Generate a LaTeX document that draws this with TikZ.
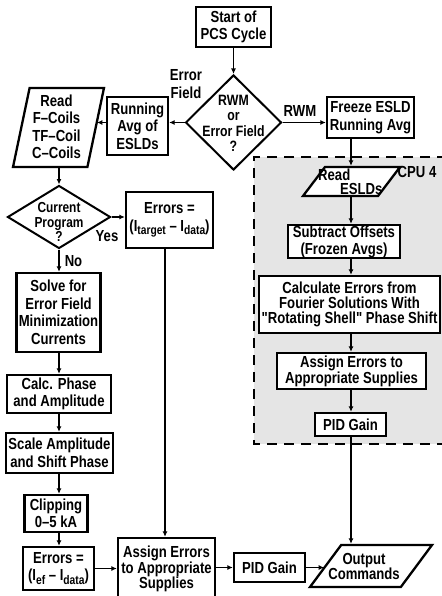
\documentclass[tikz,border=0pt]{standalone}
\usepackage{fontspec}
\setmainfont{Liberation Sans}[FakeStretch=0.82, Ligatures=TeXOff]
\usetikzlibrary{shapes.geometric,arrows.meta}
\newcommand\mysub[1]{\raisebox{-3.5pt}{\fontsize{12.5}{12.5}\selectfont #1}}
\newcommand\fsz[2]{\bfseries\fontsize{#1}{#2}\selectfont}
\begin{document}
\begin{tikzpicture}[x=1pt,y=-1pt,
  every node/.style={font=\fsz{16}{17.5}},
  box/.style 2 args={draw, line width=2.3pt, fill=white, minimum width=#1, minimum height=#2, inner sep=0pt, align=center},
  dia/.style 2 args={diamond, draw, line width=2pt, fill=white, minimum width=#1, minimum height=#2, inner sep=1pt},
  para/.style n args={4}{trapezium, trapezium left angle=#1, trapezium right angle=#2, trapezium stretches=true, draw, line width=2.3pt, fill=white, minimum width=#3, minimum height=#4, inner sep=2pt},
  txt/.style={inner sep=0pt, align=center},
  arr/.style={line width=1.6pt, -{Latex[length=5.5pt,width=5pt]}},
  region/.style={line width=1.8pt, dash pattern=on 10pt off 7pt}
]
\useasboundingbox (0,0) rectangle (441,596);
% CPU 4 region
\fill[gray!20] (254,157) rectangle (447,444);
\draw[region] (447,157) -- (254,157) -- (254,444) -- (447,444);
\coordinate (colL) at (59,0);
\coordinate (colB) at (165,0);
\coordinate (colR) at (351,0);
% nodes
\node[box={75}{40}] (start) at (233.5,27) {Start of\\PCS Cycle};
\node[dia={96}{95}] (d1) at (233.5,122.5) {};
\node[txt, font=\fsz{15}{15.5}] at (233.5,123.5) {RWM\\or\\Error Field\\?};
\node[txt] at (186,84) {Error\\Field};
\node[txt] at (300,111) {RWM};
\node[box={87}{41}] (freeze) at (370.5,117.5) {Freeze ESLD\\Running Avg};
\node[box={61}{58}] (runavg) at (137.5,126) {Running\\Avg of\\ESLDs};
\node[para={74}{106}{91}{79}] (readF) at (58.5,127.5) {};
\node[txt] at (56.5,127) {Read\\F–Coils\\TF–Coil\\C–Coils};
\node[dia={103}{63}] (cp) at (59,217) {};
\node[txt, font=\fsz{14.5}{14.3}] at (59,222) {Current\\Program\\?};
\node[txt] at (107,236) {Yes};
\node[box={87}{56}] (errT) at (169.5,220) {Errors =\\(I\mysub{target} – I\mysub{data})};
\node[txt] at (73.5,261) {No};
\node[box={84}{79}] (solve) at (58.5,312.5) {Solve for\\Error Field\\Minimization\\Currents};
\node[box={104}{38}] (calc) at (59,394) {Calc. Phase\\and Amplitude};
\node[box={107}{40}] (scale) at (59.5,453) {Scale Amplitude\\and Shift Phase};
\node[box={63}{37}] (clip) at (56,513.5) {Clipping\\0–5 kA};
\node[box={71}{43}] (errEF) at (58.5,568.5) {Errors =\\(I\mysub{ef} – I\mysub{data})};
\node[box={97}{62}, font=\fsz{16}{15.5}] (assignB) at (166.5,569) {Assign Errors\\to Appropriate\\Supplies};
\node[box={71}{29}] (pidB) at (269.5,567.5) {PID Gain};
\node[para={62.4}{117.6}{122}{42}] (out) at (371,566) {};
\node[txt, font=\fsz{16}{15}] at (364,566.5) {Output\\Commands};
\node[para={67.5}{112.5}{97}{29}] (readE) at (351.5,181.5) {};
\node[txt, anchor=west, align=left, font=\fsz{16}{14}] at (318,182) {Read\\\hspace*{22pt}ESLDs};
\node[txt] at (417,172) {CPU 4};
\node[box={112}{33}, font=\fsz{16}{17}] (sub) at (344,241.5) {Subtract Offsets\\(Frozen Avgs)};
\node[box={181}{57}, font=\fsz{16}{15}] (cerr) at (349.5,304.5) {Calculate Errors from\\Fourier Solutions With\\"Rotating Shell" Phase Shift};
\node[box={149}{36}, font=\fsz{16}{16}] (asR) at (351.5,371) {Assign Errors to\\Appropriate Supplies};
\node[box={71}{23}] (pidR) at (350.5,424.5) {PID Gain};
% connectors
\draw[arr] (start) -- (d1);
\draw[arr] (d1.east) -- (d1.east -| freeze.west);
\draw[arr] (d1.west) -- (d1.west -| runavg.east);
\draw[arr] (runavg.west |- d1.west) -- (readF.east |- d1.west);
\draw[arr] (readF.south -| colL) -- (cp.north -| colL);
\draw[arr] (cp.east) -- (cp.east -| errT.west);
\draw[arr] (cp.south -| colL) -- (solve.north -| colL);
\draw[arr] (solve.south -| colL) -- (calc.north -| colL);
\draw[arr] (calc.south -| colL) -- (scale.north -| colL);
\draw[arr] (scale.south -| colL) -- (clip.north -| colL);
\draw[arr] (clip.south -| colL) -- (errEF.north -| colL);
\draw[arr] (errT.south -| colB) -- (assignB.north -| colB);
\draw[arr] (errEF.east) -- (errEF.east -| assignB.west);
\draw[arr] (assignB.east |- pidB.west) -- (pidB.west);
\draw[arr] (pidB.east) -- (pidB.east -| out.west);
\draw[arr] (freeze.south -| colR) -- (readE.north -| colR);
\draw[arr] (readE.south -| colR) -- (sub.north -| colR);
\draw[arr] (sub.south -| colR) -- (cerr.north -| colR);
\draw[arr] (cerr.south -| colR) -- (asR.north -| colR);
\draw[arr] (asR.south -| colR) -- (pidR.north -| colR);
\draw[arr] (pidR.south -| colR) -- (out.north -| colR);
\end{tikzpicture}
\end{document}
